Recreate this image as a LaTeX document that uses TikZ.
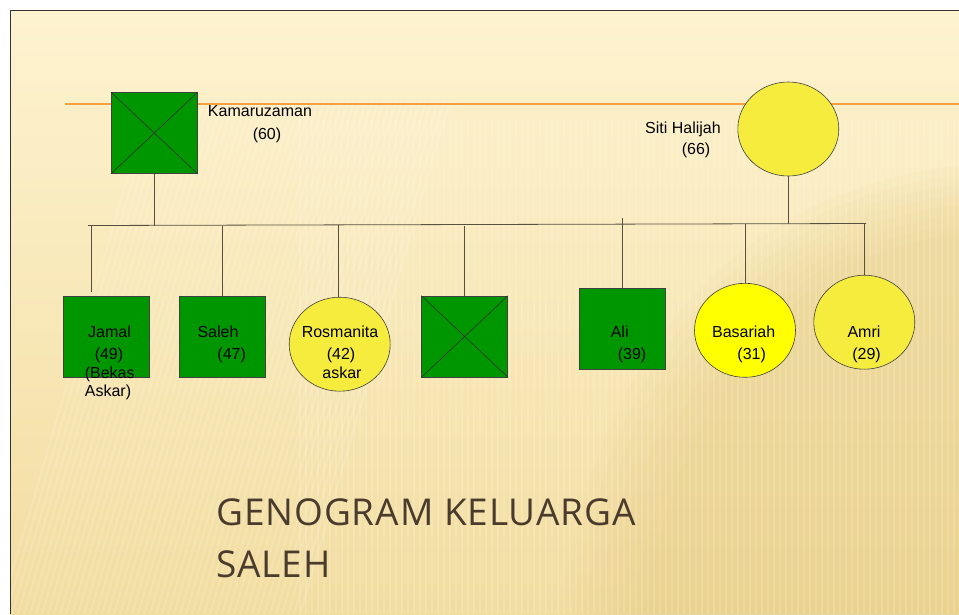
\documentclass[tikz,border=0pt]{standalone}
\usepackage{fontspec}
\setmainfont{Liberation Sans}
\newfontfamily\titlefont[LetterSpace=2.5]{Open Sans}
\usetikzlibrary{shapes.geometric}

\definecolor{bgtop}{HTML}{FEF3D0}
\definecolor{bgbot}{HTML}{F2DDA0}
\definecolor{bgdark}{HTML}{E6CC82}
\definecolor{gr}{HTML}{009600}
\definecolor{yl}{HTML}{F6EC3E}
\definecolor{ylb}{HTML}{FFFF00}
\definecolor{orl}{HTML}{F5A040}
\definecolor{ttl}{HTML}{4A3B2C}
\definecolor{lnk}{HTML}{5A5040}

\begin{document}
\begin{tikzpicture}[x=1pt,y=-1pt,
  male/.style={draw=black!75, fill=gr, minimum width=86pt, minimum height=81pt, inner sep=0pt, line width=0.6pt},
  female/.style={draw=black!75, fill=yl, ellipse, minimum width=101pt, minimum height=94pt, inner sep=0pt, line width=0.6pt},
  lbl/.style={font=\fontsize{16}{18}\selectfont, anchor=base, inner sep=0pt, text=black},
  ttlstyle/.style={font=\titlefont\fontsize{37}{43}\selectfont, anchor=base west, inner sep=0pt, text=ttl},
  link/.style={draw=lnk, line width=0.8pt},
  crossln/.style={draw=black!80, line width=0.6pt}
]
\useasboundingbox (0,0) rectangle (959,614);
% background
\fill[white] (0,0) rectangle (959,614);
\shade[top color=bgtop, bottom color=bgbot] (10,10) rectangle (959,614);
\begin{scope}
  \clip (10,10) rectangle (959,614);
  \foreach \k in {0,...,7} {
    \fill[bgdark, opacity=0.07] (560+\k*12,614) .. controls (600+\k*12,320+\k*6) and (760+\k*8,190+\k*8) .. (959,165+\k*10) -- (959,614) -- cycle;
  }
  \foreach \i in {0,6,...,660} {
    \draw[white, opacity=0.15, line width=2pt] (300+\i,120) -- (300+\i,614);
  }
  \foreach \i in {0,6,...,300} {
    \draw[white, opacity=0.15, line width=2pt] (\i,614) -- (\i+150,100);
  }
\end{scope}
\draw[black!80, line width=0.8pt] (10,614) -- (10,10) -- (959,10);
% orange line
\coordinate (oL) at (65,104);
\coordinate (oR) at (959,104);
\draw[orl, line width=1.3pt] (oL) -- (oR);

% parents
\node[male] (km) at (154.3,133) {};
\draw[crossln] (km.north west) -- (km.south east) (km.north east) -- (km.south west);
\node[female] (sh) at (788.3,129) {};
\node[lbl] (kmname) at (260,116) {Kamaruzaman};
\node[lbl] (kmage) at (267,139) {(60)};
\node[lbl] (shname) at (683,133) {Siti Halijah};
\node[lbl] (shage) at (696,154) {(66)};

% children
\node[male] (jamal) at (106,336.5) {};
\node[male] (saleh) at (222,336.5) {};
\node[female] (ros) at (339.7,344.2) {};
\node[male] (unk) at (464.7,336.5) {};
\draw[crossln] (unk.north west) -- (unk.south east) (unk.north east) -- (unk.south west);
\node[male] (ali) at (622.7,329) {};
\node[female, fill=ylb] (bas) at (745,330.3) {};
\node[female] (amri) at (864.3,322.2) {};

% sibship line
\coordinate (hL) at (88,225.5);
\coordinate (hR) at (866,223.5);
\draw[link] (hL) -- (hR);
\draw[link] (km.south) -- (km.south |- hL);
\draw[link] (sh.south) -- (sh.south |- hR);
\coordinate (jJ) at (91,225.5);
\coordinate (jJe) at (91,292);
\draw[link] (jJ) -- (jJe);
\draw[link] (saleh.north |- hL) -- (saleh.north);
\coordinate (jR) at (338.3,225);
\draw[link] (jR) -- (jR |- ros.north);
\draw[link] (unk.north |- hL) -- (unk.north);
\coordinate (jA) at (622,218);
\draw[link] (jA) -- (jA |- ali.north);
\draw[link] (bas.north |- hR) -- (bas.north);
\draw[link] (amri.north |- hR) -- (amri.north);

% child labels
\node[lbl] (t1) at (109.5,337) {Jamal};
\node[lbl] (t2) at (109,359) {(49)};
\node[lbl] (t3) at (109.7,378) {(Bekas};
\node[lbl] (t4) at (108,396) {Askar)};
\node[lbl] (t5) at (218,337) {Saleh};
\node[lbl] (t6) at (231.7,359) {(47)};
\node[lbl] (t7) at (340,337) {Rosmanita};
\node[lbl] (t8) at (341,359) {(42)};
\node[lbl] (t9) at (342,378) {askar};
\node[lbl] (t10) at (619.7,337) {Ali};
\node[lbl] (t11) at (632,359) {(39)};
\node[lbl] (t12) at (743.7,337) {Basariah};
\node[lbl] (t13) at (751.7,359) {(31)};
\node[lbl] (t14) at (864,337) {Amri};
\node[lbl] (t15) at (866.5,359) {(29)};

% title
\node[ttlstyle] (title1) at (216,525) {GENOGRAM KELUARGA};
\node[ttlstyle] (title2) at (216,577) {SALEH};
\end{tikzpicture}
\end{document}
